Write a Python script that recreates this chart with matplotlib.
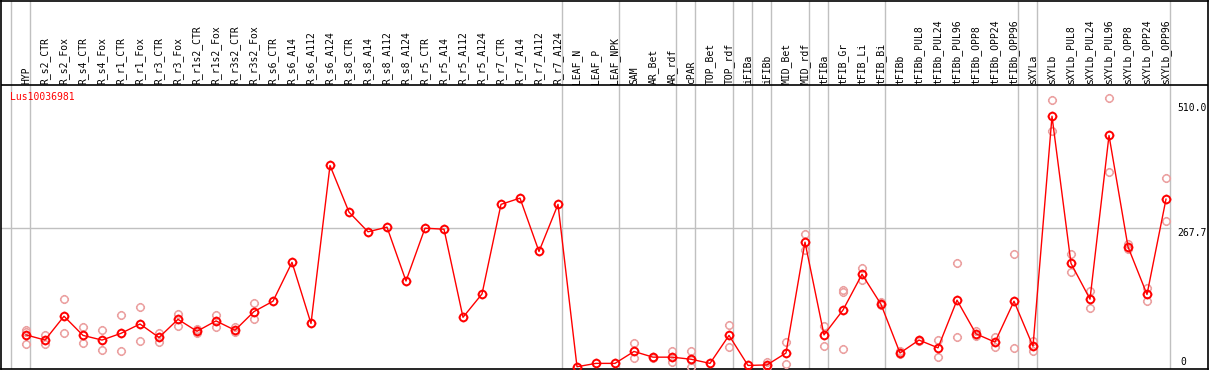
import matplotlib
matplotlib.use("Agg")
import matplotlib.pyplot as plt
from matplotlib.path import Path
import numpy as np

labels = ["HYP", "R_s2_CTR", "R_s2_Fox", "R_s4_CTR", "R_s4_Fox", "R_r1_CTR", "R_r1_Fox",
          "R_r3_CTR", "R_r3_Fox", "R_r1s2_CTR", "R_r1s2_Fox", "R_r3s2_CTR", "R_r3s2_Fox",
          "R_s6_CTR", "R_s6_A14", "R_s6_A112", "R_s6_A124", "R_s8_CTR", "R_s8_A14",
          "R_s8_A112", "R_s8_A124", "R_r5_CTR", "R_r5_A14", "R_r5_A112", "R_r5_A124",
          "R_r7_CTR", "R_r7_A14", "R_r7_A112", "R_r7_A124", "LEAF_N", "LEAF_P", "LEAF_NPK",
          "SAM", "AR_Bet", "AR_rdf", "cPAR", "TOP_Bet", "TOP_rdf", "iFIBa", "iFIBb",
          "MID_Bet", "MID_rdf", "tFIBa", "tFIB_Gr", "tFIB_Li", "tFIB_Bi", "tFIBb",
          "tFIBb_PUL8", "tFIBb_PUL24", "tFIBb_PUL96", "tFIBb_OPP8", "tFIBb_OPP24",
          "tFIBb_OPP96", "sXYLa", "sXYLb", "sXYLb_PUL8", "sXYLb_PUL24", "sXYLb_PUL96",
          "sXYLb_OPP8", "sXYLb_OPP24", "sXYLb_OPP96"]

means = [62, 52, 98, 61, 52, 65, 83, 57, 92, 69, 89, 71, 107,
         127, 202, 84, 389, 299, 261, 270, 166, 268, 266, 96, 141,
         314, 326, 223, 314, 0.5, 7, 7, 30, 19, 19, 15, 7, 61, 3, 4,
         27, 241, 62, 110, 179, 121, 27, 52, 37, 129, 64, 48, 127,
         40, 484, 200, 131, 447, 232, 140, 324]

replicates = [[71, 68, 44], [62, 44], [131, 66], [77, 46], [71, 32], [100, 30], [115, 50],
              [66, 49], [102, 80], [74, 66], [101, 78], [78, 68], [123, 92],
              [], [], [], [], [], [], [], [], [], [], [], [], [], [], [], [], [], [], [],
              [47, 17], [20, 18], [30, 9], [30, 13, 0], [], [82, 39], [], [9, 0],
              [48, 5], [257, 225], [80, 41], [149, 145, 35], [192, 168], [125, 120],
              [30, 26], [53, 51], [53, 19], [201, 57], [70, 60], [58, 39], [219, 36],
              [51, 30], [515, 455], [218, 183], [147, 114], [519, 376], [237, 227],
              [153, 128], [365, 282]]

group_ends = [-1, 0, 28, 31, 34, 35, 37, 38, 39, 41, 42, 45, 52, 53, 60]
gene = "Lus10036981"

# marker: circle with four small ticks
circ = Path.unit_circle()
t = 1.25
ticks = Path([(0, 1), (0, t), (0, -1), (0, -t), (1, 0), (t, 0), (-1, 0), (-t, 0)],
             [Path.MOVETO, Path.LINETO] * 4)
tick_circle = Path.make_compound_path(circ, ticks)

W, H = 1209, 370
fig = plt.figure(figsize=(W / 100, H / 100), dpi=100)
ax = fig.add_axes([1 / W, 1 / H, 1207 / W, 368.5 / H])

px_x = 19.0
x0 = -25 / px_x
ax.set_xlim(x0, x0 + 1207 / px_x)
px_y = 0.518
y0 = -2 / px_y
ax.set_ylim(y0, y0 + 368.5 / px_y)

mono = "DejaVu Sans Mono"
label_base = (367 - 84) / px_y
sep_line = (367 - 85) / px_y

for g in group_ends:
    ax.axvline(g + 0.22, color="#c0c0c0", lw=1, zorder=1)
ax.plot([x0, 60.22], [267.7, 267.7], color="#c0c0c0", lw=1, zorder=1)
ax.axhline(sep_line, color="black", lw=1.2, zorder=2)

rx = [i for i, r in enumerate(replicates) for _ in r]
ry = [v for r in replicates for v in r]
ax.plot(rx, ry, ls="none", marker=tick_circle, ms=6.6, mfc="none", mec="#eba0a0", mew=1.1, zorder=3)

xs = np.arange(len(means))
ax.plot(xs, means, color="red", lw=1, zorder=4)
ax.plot(xs, means, ls="none", marker=tick_circle, ms=6.8, mfc="none", mec="red", mew=1.4, zorder=5)

for i, lab in enumerate(labels):
    ax.text(i, label_base, lab, rotation=90, ha="center", va="bottom",
            fontsize=7, family=mono, color="black")

ax.text(x0 + 9 / px_x, (367 - 97) / px_y, gene, color="red", fontsize=7,
        family=mono, ha="left", va="center")

xl = x0 + (1177 - 1) / px_x
ax.text(xl, 510.0, "510.0", fontsize=7, family=mono, ha="left", va="top")
ax.text(xl, 267.7, "267.7", fontsize=7, family=mono, ha="left", va="top")
ax.text(xl + 3 / px_x, 0, "0", fontsize=7, family=mono, ha="left", va="bottom")

ax.set_xticks([])
ax.set_yticks([])
for s in ax.spines.values():
    s.set_linewidth(1.2)
    s.set_color("black")

fig.savefig("out.png", dpi=100)
